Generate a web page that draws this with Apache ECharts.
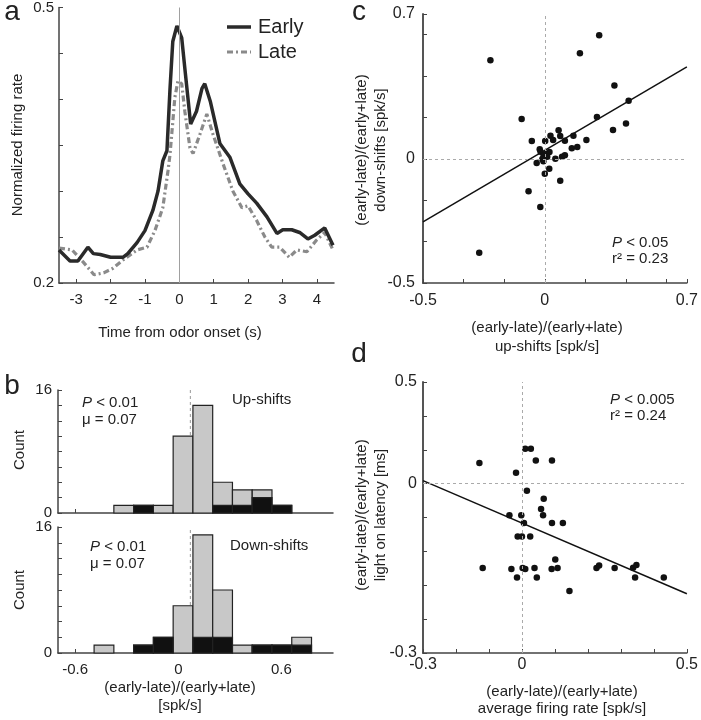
<!DOCTYPE html>
<html><head><meta charset="utf-8">
<script src="https://cdn.jsdelivr.net/npm/echarts@6/dist/echarts.min.js"></script>
<style>html,body{margin:0;padding:0;background:#fff}#c{width:701px;height:720px}</style>
</head><body><div id="c"></div><script>
// ---------- Panel a: normalized firing rate ----------
const earlyT = [-3.5,-3.18,-2.95,-2.66,-2.5,-2.3,-2.0,-1.64,-1.5,-1.23,-1.0,-0.77,-0.62,-0.48,-0.36,-0.27,-0.19,-0.07,0.07,0.16,0.33,0.5,0.66,0.74,0.9,1.18,1.47,1.76,2.0,2.25,2.55,2.84,3.01,3.27,3.5,3.74,3.94,4.23,4.47];
const earlyV = [0.236,0.224,0.224,0.239,0.232,0.231,0.228,0.228,0.232,0.244,0.257,0.279,0.300,0.333,0.344,0.412,0.463,0.480,0.467,0.434,0.373,0.387,0.412,0.417,0.398,0.352,0.337,0.308,0.297,0.287,0.272,0.254,0.258,0.258,0.255,0.248,0.252,0.260,0.241];
const lateT = [-3.5,-3.12,-2.8,-2.48,-2.2,-1.93,-1.64,-1.23,-0.94,-0.71,-0.48,-0.33,-0.27,-0.13,-0.04,0.07,0.16,0.31,0.4,0.6,0.8,0.98,1.27,1.56,1.82,2.0,2.25,2.49,2.69,2.92,3.2,3.42,3.71,4.0,4.23,4.47];
const lateV = [0.238,0.236,0.223,0.209,0.211,0.216,0.225,0.236,0.239,0.257,0.282,0.322,0.340,0.402,0.420,0.417,0.387,0.347,0.341,0.362,0.384,0.362,0.330,0.300,0.282,0.284,0.268,0.250,0.239,0.239,0.228,0.236,0.234,0.247,0.255,0.236];
const aXTicks = [-3,-2,-1,0,1,2,3,4];
const aYLabels = [0.2,0.5];

// ---------- Panel b: histograms ----------
const binStarts = [-0.49,-0.375,-0.26,-0.145,-0.03,0.085,0.2,0.315,0.43,0.545,0.66];
const binWidth = 0.115;
const upTotal   = [0,1,1,1,10,14,4,3,3,1,0];
const upBlack   = [0,0,1,0,0,0,1,1,2,1,0];
const downTotal = [1,0,1,2,6,15,8,1,1,1,2];
const downBlack = [0,0,1,2,0,2,2,0,1,1,1];
const histMean = 0.07;
const bXTicks = [-0.6,0,0.6];
const bYLabels = [0,16];

// ---------- Panel c: up-shifts vs down-shifts ----------
const cX = [-0.268,0.268,0.173,0.343,0.413,0.257,0.336,0.40,-0.114,-0.064,0.002,0.028,0.041,0.068,0.076,0.099,0.141,0.205,0.133,0.16,-0.025,-0.021,0.005,0.023,-0.006,0.012,-0.012,0.052,0.085,0.099,-0.04,-0.007,0.022,0.0,0.076,-0.08,-0.022,-0.323];
const cY = [0.476,0.597,0.51,0.355,0.281,0.202,0.139,0.171,0.192,0.086,0.086,0.112,0.091,0.138,0.11,0.088,0.112,0.091,0.051,0.057,0.046,0.034,0.023,0.033,0.014,0.01,-0.001,0.0,0.01,0.017,-0.02,-0.012,-0.048,-0.072,-0.106,-0.157,-0.233,-0.454];
const cFitX = [-0.6,0.7];
const cFitY = [-0.305,0.444];
const cTickVals = [-0.6,-0.4,-0.2,0,0.2,0.4,0.6,0.7];
const cLabelVals = [-0.6,0,0.7];
const cLabelText = ['-0.5','0','0.7'];

// ---------- Panel d: firing rate vs latency ----------
const dX = [-0.129,0.01,0.027,0.042,0.091,-0.018,0.015,0.066,0.058,0.064,-0.038,-0.002,0.006,0.091,0.124,-0.013,0.0,0.025,-0.119,-0.032,-0.015,0.002,0.01,0.038,0.045,0.09,0.108,0.101,0.144,0.226,0.234,0.281,0.337,0.347,0.343,0.43];
const dY = [0.061,0.103,0.103,0.068,0.068,0.032,-0.021,-0.045,-0.075,-0.093,-0.093,-0.093,-0.116,-0.116,-0.116,-0.156,-0.156,-0.156,-0.249,-0.252,-0.277,-0.249,-0.252,-0.249,-0.277,-0.252,-0.249,-0.224,-0.317,-0.249,-0.242,-0.249,-0.248,-0.240,-0.277,-0.277];
const dFitX = [-0.3,0.5];
const dFitY = [0.009,-0.325];
const dXLabelVals = [-0.3,0,0.5];
const dXLabelText = ['-0.3','0','0.5'];
const dYLabelVals = [-0.5,0,0.3];
const dYLabelText = ['-0.3','0','0.5'];

// ---------- build ----------
const FONT = 'Liberation Sans, Arial, sans-serif';
const TXT = '#222';
const zip = (a,b) => a.map((v,i)=>[v,b[i]]);
const lookup = (vals, texts) => v => { const i = vals.findIndex(t=>Math.abs(t-v)<1e-6); return i>=0 ? texts[i] : ''; };
const hist = (tot) => binStarts.map((s,i)=>[s, s+binWidth, tot[i]]);

function axisBase(extra){
  return Object.assign({
    type:'value', splitLine:{show:false},
    axisLine:{show:true, onZero:false, lineStyle:{color:'#444', width:1.5}},
    axisTick:{show:true, inside:true, length:4, lineStyle:{color:'#444', width:1}},
    axisLabel:{color:TXT, fontFamily:FONT, fontSize:15}
  }, extra);
}
function histItem(fill){
  return function(params, api){
    const x0 = api.value(0), x1 = api.value(1), h = api.value(2);
    if (!h) return null;
    const p0 = api.coord([x0, h]), p1 = api.coord([x1, 0]);
    return {type:'rect', shape:{x:p0[0], y:p0[1], width:p1[0]-p0[0], height:p1[1]-p0[1]},
      style:{fill:fill, stroke:'#222', lineWidth:1.2}};
  };
}
const zeroLine = {silent:true, symbol:'none', label:{show:false},
  lineStyle:{color:'#aaa', width:1, type:[3,3]}, data:[{xAxis:0},{yAxis:0}]};

const grids = [
  {left:59, top:6, width:275, height:277},
  {left:58, top:390, width:275, height:123},
  {left:58, top:527, width:275, height:126},
  {left:423, top:14, width:269, height:269},
  {left:423, top:382, width:270, height:271}
];

const xAxes = [
  axisBase({gridIndex:0, min:-3.5, max:4.5,
    axisTick:{show:true, inside:true, length:4, customValues:aXTicks, lineStyle:{color:'#444'}},
    axisLabel:{color:TXT, fontFamily:FONT, fontSize:15, margin:9, customValues:aXTicks}}),
  axisBase({gridIndex:1, min:-0.7, max:0.9,
    axisTick:{show:true, inside:true, length:4, customValues:bXTicks, lineStyle:{color:'#444'}},
    axisLabel:{show:false}}),
  axisBase({gridIndex:2, min:-0.7, max:0.9,
    axisTick:{show:true, inside:true, length:4, customValues:bXTicks, lineStyle:{color:'#444'}},
    axisLabel:{color:TXT, fontFamily:FONT, fontSize:15, margin:9, customValues:bXTicks,
      formatter:v=> (Math.abs(v)<1e-9?'0':String(v))}}),
  axisBase({gridIndex:3, min:-0.6, max:0.7,
    axisTick:{show:true, inside:true, length:4, customValues:cTickVals, lineStyle:{color:'#444'}},
    axisLabel:{color:TXT, fontFamily:FONT, fontSize:16, margin:10, customValues:cLabelVals,
      formatter:lookup(cLabelVals,cLabelText)}}),
  axisBase({gridIndex:4, min:-0.3, max:0.5, interval:0.1,
    axisLabel:{color:TXT, fontFamily:FONT, fontSize:16, margin:4, customValues:dXLabelVals,
      formatter:lookup(dXLabelVals,dXLabelText)}})
];
const yAxes = [
  axisBase({gridIndex:0, min:0.2, max:0.5, interval:0.05,
    axisLabel:{color:TXT, fontFamily:FONT, fontSize:15, margin:5, customValues:aYLabels, formatter:v=>v.toFixed(1)}}),
  axisBase({gridIndex:1, min:0, max:16, interval:2,
    axisLabel:{color:TXT, fontFamily:FONT, fontSize:15, margin:6, customValues:bYLabels}}),
  axisBase({gridIndex:2, min:0, max:16, interval:2,
    axisLabel:{color:TXT, fontFamily:FONT, fontSize:15, margin:6, customValues:bYLabels}}),
  axisBase({gridIndex:3, min:-0.6, max:0.7,
    axisLine:{show:true, onZero:false, lineStyle:{color:'#555', width:2}},
    axisTick:{show:true, inside:true, length:4, customValues:cTickVals, lineStyle:{color:'#444'}},
    axisLabel:{color:TXT, fontFamily:FONT, fontSize:16, margin:8, customValues:cLabelVals,
      formatter:lookup(cLabelVals,cLabelText)}}),
  axisBase({gridIndex:4, min:-0.5, max:0.3, interval:0.1,
    axisLine:{show:true, onZero:false, lineStyle:{color:'#555', width:2}},
    axisLabel:{color:TXT, fontFamily:FONT, fontSize:16, margin:6, customValues:dYLabelVals,
      formatter:lookup(dYLabelVals,dYLabelText)}})
];

const dot = {color:'#111', opacity:1};
const series = [
  {type:'line', xAxisIndex:0, yAxisIndex:0, data:zip(lateT,lateV), showSymbol:false, z:3,
    lineStyle:{color:'#8a8a8a', width:3.2, type:[6,3,2,3]},
    markLine:{silent:true, symbol:'none', label:{show:false}, lineStyle:{color:'#a0a0a0', width:1, type:'solid'}, data:[{xAxis:0}]}},
  {type:'line', xAxisIndex:0, yAxisIndex:0, data:zip(earlyT,earlyV), showSymbol:false, z:4,
    lineStyle:{color:'#2a2a2a', width:3.5}},
  {type:'line', xAxisIndex:1, yAxisIndex:1, data:[[histMean,0],[histMean,16]], showSymbol:false, z:1,
    lineStyle:{color:'#999', width:1, type:[3,3]}},
  {type:'custom', xAxisIndex:1, yAxisIndex:1, data:hist(upTotal), encode:{x:[0,1], y:2}, renderItem:histItem('#c8c8c8'), z:2},
  {type:'custom', xAxisIndex:1, yAxisIndex:1, data:hist(upBlack), encode:{x:[0,1], y:2}, renderItem:histItem('#111'), z:3},
  {type:'line', xAxisIndex:2, yAxisIndex:2, data:[[histMean,0],[histMean,16]], showSymbol:false, z:1,
    lineStyle:{color:'#999', width:1, type:[3,3]}},
  {type:'custom', xAxisIndex:2, yAxisIndex:2, data:hist(downTotal), encode:{x:[0,1], y:2}, renderItem:histItem('#c8c8c8'), z:2},
  {type:'custom', xAxisIndex:2, yAxisIndex:2, data:hist(downBlack), encode:{x:[0,1], y:2}, renderItem:histItem('#111'), z:3},
  {type:'scatter', xAxisIndex:3, yAxisIndex:3, data:zip(cX,cY), symbolSize:6.5, itemStyle:dot, z:4, markLine:zeroLine},
  {type:'line', xAxisIndex:3, yAxisIndex:3, data:zip(cFitX,cFitY), showSymbol:false, z:3, lineStyle:{color:'#111', width:1.5}},
  {type:'scatter', xAxisIndex:4, yAxisIndex:4, data:zip(dX,dY), symbolSize:6.5, itemStyle:dot, z:4, markLine:zeroLine},
  {type:'line', xAxisIndex:4, yAxisIndex:4, data:zip(dFitX,dFitY), showSymbol:false, z:3, lineStyle:{color:'#111', width:1.5}}
];

function txt(x, y, text, size, o){
  o = o || {};
  return {type:'text', x:x, y:y, rotation:o.rot||0, z:10, silent:true,
    style:{text:text, fontSize:size, fontFamily:FONT, fill:TXT, align:o.align||'center', verticalAlign:'middle',
      rich:{i:{fontStyle:'italic', fontSize:size, fontFamily:FONT, fill:TXT}}}};
}
const R = Math.PI/2;
const graphic = [
  txt(12,12,'a',28), txt(12,386,'b',28), txt(359,12,'c',28), txt(359,354,'d',28),
  {type:'line', shape:{x1:227,y1:27,x2:251,y2:27}, style:{stroke:'#2a2a2a', lineWidth:3.5}},
  {type:'line', shape:{x1:227,y1:52,x2:251,y2:52}, style:{stroke:'#8a8a8a', lineWidth:3.2, lineDash:[6,3,2,3]}},
  txt(258,27,'Early',20,{align:'left'}), txt(258,52,'Late',20,{align:'left'}),
  txt(18,145,'Normalized firing rate',15,{rot:R}),
  txt(180,333,'Time from odor onset (s)',15),
  txt(82,403,'{i|P} < 0.01',15,{align:'left'}), txt(82,420,'\u03bc = 0.07',15,{align:'left'}),
  txt(232,400,'Up-shifts',15,{align:'left'}),
  txt(90,547,'{i|P} < 0.01',15,{align:'left'}), txt(90,564,'\u03bc = 0.07',15,{align:'left'}),
  txt(230,546,'Down-shifts',15,{align:'left'}),
  txt(20,450,'Count',15,{rot:R}), txt(20,590,'Count',15,{rot:R}),
  txt(180,688,'(early-late)/(early+late)',15), txt(180,706,'[spk/s]',15),
  txt(362,150,'(early-late)/(early+late)',15,{rot:R}), txt(381,150,'down-shifts [spk/s]',15,{rot:R}),
  txt(547,328,'(early-late)/(early+late)',15), txt(547,347,'up-shifts [spk/s]',15),
  txt(612,243,'{i|P} < 0.05',15,{align:'left'}), txt(612,259,'r\u00b2 = 0.23',15,{align:'left'}),
  txt(362,515,'(early-late)/(early+late)',15,{rot:R}), txt(381,515,'light on latency [ms]',15,{rot:R}),
  txt(562,692,'(early-late)/(early+late)',15), txt(562,709,'average firing rate [spk/s]',15),
  txt(610,400,'{i|P} < 0.005',15,{align:'left'}), txt(610,416,'r\u00b2 = 0.24',15,{align:'left'})
];

const chart = echarts.init(document.getElementById('c'), null, {renderer:'canvas'});
chart.setOption({animation:false, backgroundColor:'#fff', grid:grids, xAxis:xAxes, yAxis:yAxes, series:series, graphic:graphic});
</script></body></html>
